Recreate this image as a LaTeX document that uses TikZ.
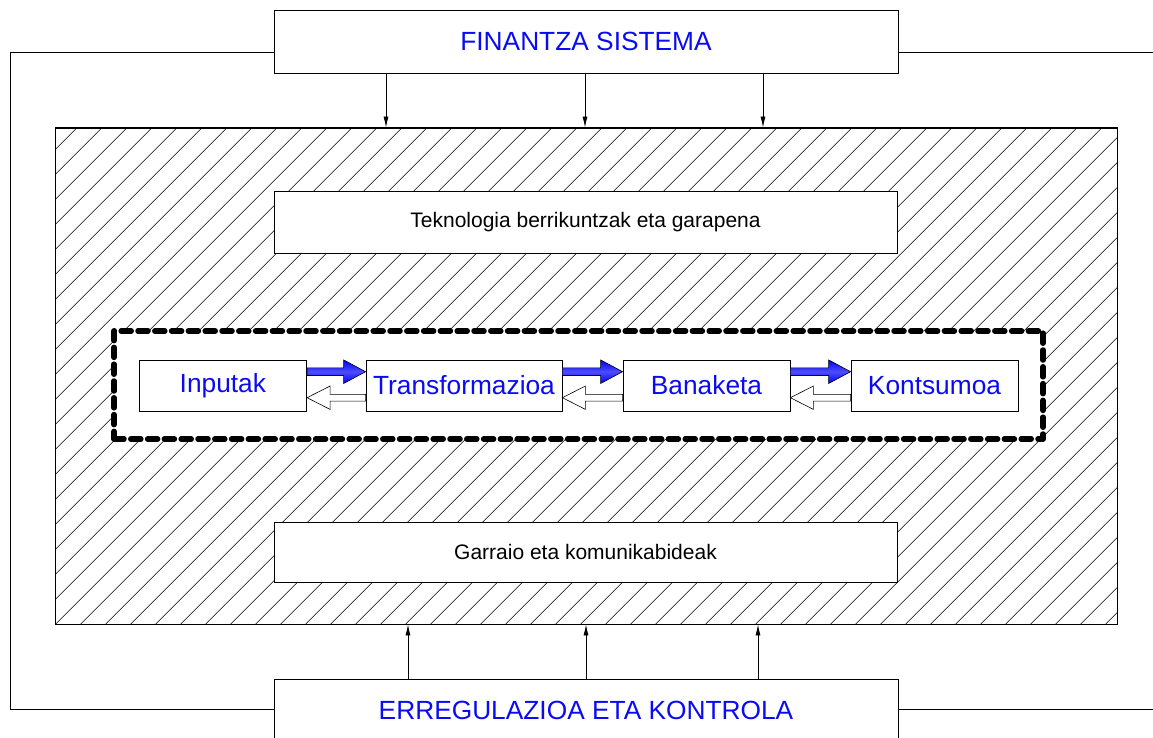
\documentclass[tikz,border=0pt]{standalone}
\usepackage{fontspec}
\setmainfont{Liberation Sans}
\usetikzlibrary{arrows.meta,calc}
\definecolor{txtblue}{RGB}{10,10,245}
\newcommand\fwdblock[2]{%
  \shadedraw[fwdarr] ($(#1.east)+(0,-10.0)$) -- ($(#2.west)+(-22,-10.0)$) -- ($(#2.west)+(-22,-2.0)$) -- ($(#2.west)+(0,-13.8)$) -- ($(#2.west)+(-22,-25.6)$) -- ($(#2.west)+(-22,-17.6)$) -- ($(#1.east)+(0,-17.6)$) -- cycle;
  \filldraw[backarr] ($(#2.west)+(0,8.8)$) -- ($(#1.east)+(23,8.8)$) -- ($(#1.east)+(23,0.5)$) -- ($(#1.east)+(0,12.2)$) -- ($(#1.east)+(23,23.9)$) -- ($(#1.east)+(23,15.6)$) -- ($(#2.west)+(0,15.6)$) -- cycle;
}
\begin{document}
\begin{tikzpicture}[x=1pt,y=-1pt,
  box/.style={draw=black, line width=0.8pt, fill=white, inner sep=0pt},
  bigtxt/.style={font=\fontsize{26.3}{31}\selectfont, text=txtblue},
  midtxt/.style={font=\fontsize{21}{25}\selectfont, text=black},
  innertxt/.style={font=\fontsize{26.3}{31}\selectfont, text=txtblue},
  hatchline/.style={line width=0.6pt, black},
  conn/.style={line width=0.8pt, black},
  arr/.style={line width=0.8pt, black, -{Latex[length=11pt,width=5pt]}},
  fwdarr/.style={draw=black, line width=0.6pt, top color=blue, bottom color=blue, middle color=blue!70!white},
  backarr/.style={draw=black, line width=0.6pt, fill=white},
  dashframe/.style={draw=black, fill=white, line width=5.5pt, line cap=round, line join=round, dash pattern=on 10pt off 6.8pt, inner sep=0pt}
]
\clip (0,0) rectangle (1153,738);
\fill[white] (0,0) rectangle (1153,738);

% hatched zone
\node[draw=black, line width=0.9pt, inner sep=0pt, minimum width=1061.3pt, minimum height=496pt] (zone) at (586.35,376) {};
\begin{scope}
  \clip (zone.north west) rectangle (zone.south east);
  \foreach \k in {-22,...,45} {
    \draw[hatchline] ({679.7+25*\k-100},100) -- ({679.7+25*\k-660},660);
  }
\end{scope}
\draw[line width=0.9pt] (zone.north west) rectangle (zone.south east);

% top and bottom boxes
\node[box, bigtxt, minimum width=624pt, minimum height=63pt] (fin) at (586,41.5) {FINANTZA SISTEMA};
\node[box, bigtxt, minimum width=624pt, minimum height=62pt] (reg) at (586,710) {ERREGULAZIOA ETA KONTROLA};

% inner boxes
\node[box, midtxt, minimum width=623pt, minimum height=62pt] (tek) at (585.5,222) {Teknologia berrikuntzak eta garapena};
\node[box, midtxt, minimum width=623pt, minimum height=60pt] (gar) at (585.5,552) {Garraio eta komunikabideak};

% dashed frame
\node[dashframe, minimum width=929pt, minimum height=108pt] (frame) at (578.5,385) {};

% process boxes
\node[box, innertxt, minimum width=167.7pt, minimum height=51pt] (inp) at (222.85,385.5) {Inputak};
\node[box, innertxt, minimum width=196pt, minimum height=51pt] (tra) at (464,385.5) {Transformazioa};
\node[box, innertxt, minimum width=167pt, minimum height=51pt] (ban) at (706.5,385.5) {Banaketa};
\node[box, innertxt, minimum width=167pt, minimum height=51pt] (kon) at (934.5,385.5) {Kontsumoa};

\fwdblock{inp}{tra}
\fwdblock{tra}{ban}
\fwdblock{ban}{kon}

% arrows from finance system
\coordinate (t1) at (386,0);
\coordinate (t2) at (585,0);
\coordinate (t3) at (763,0);
\draw[arr] (fin.south -| t1) -- (zone.north -| t1);
\draw[arr] (fin.south -| t2) -- (zone.north -| t2);
\draw[arr] (fin.south -| t3) -- (zone.north -| t3);

% arrows from regulation
\coordinate (b1) at (408,0);
\coordinate (b2) at (586,0);
\coordinate (b3) at (758,0);
\draw[arr] (reg.north -| b1) -- (zone.south -| b1);
\draw[arr] (reg.north -| b2) -- (zone.south -| b2);
\draw[arr] (reg.north -| b3) -- (zone.south -| b3);

% outer connections
\coordinate (lt) at (10,52);
\coordinate (rt) at (1153,52);
\coordinate (rb) at (1153,709);
\draw[conn] ($(fin.west)+(0,10.5)$) -- (lt) |- ($(reg.west)+(0,-1)$);
\draw[conn] ($(fin.east)+(0,10.5)$) -- (rt);
\draw[conn] ($(reg.east)+(0,-1)$) -- (rb);
\end{tikzpicture}
\end{document}
